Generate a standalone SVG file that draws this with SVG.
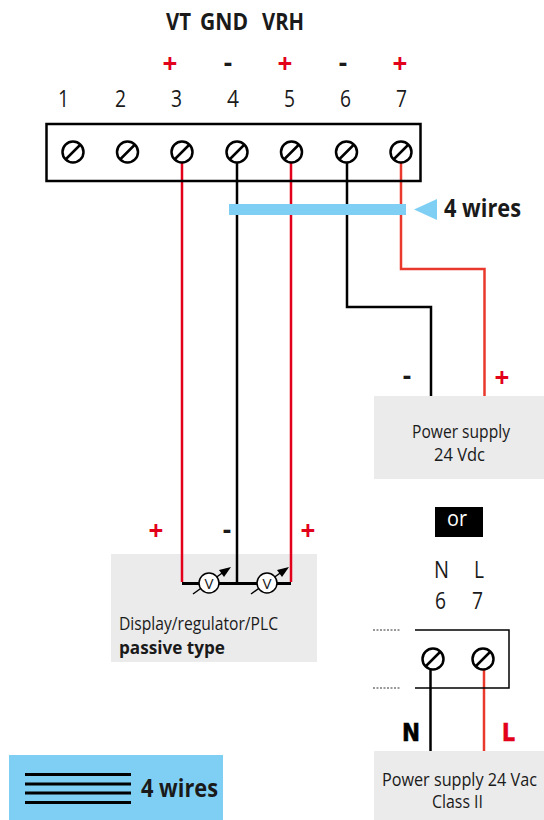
<svg xmlns="http://www.w3.org/2000/svg" width="544" height="820" viewBox="0 0 544 820">
<style>
text{font-family:"Open Sans","Noto Sans","Liberation Sans",sans-serif;fill:#1a1a1a}
.b{font-weight:700}
.r{fill:#e2001a}
.s{font-weight:700;font-size:26px;text-anchor:middle}
.n{font-size:23.500px}
.l{font-size:18px}
.box{fill:#ebebeb}
.blue{fill:#7fcff5}
.screw circle{fill:#fff;stroke:#000;stroke-width:2.5}
.screw line{stroke:#000;stroke-width:2.5}
.k{fill:none;stroke:#000;stroke-width:2.5}
.red{fill:none;stroke:#e2001a;stroke-width:2.5}
.org{fill:none;stroke:#e9392c;stroke-width:2.5}
.m circle{fill:#fff;stroke:#000;stroke-width:1.5}
.m line{stroke:#000;stroke-width:1.5}
.m polygon{fill:#000}
.m text{font-size:15px;text-anchor:middle}
.h{font-family:"DejaVu Sans",sans-serif;font-size:24px;font-weight:700}
</style>
<defs>
<g id="screw" class="screw"><circle r="10.5"/><line x1="-7" y1="7" x2="7" y2="-7"/></g>
<g id="meter" class="m"><line x1="-16" y1="11" x2="16" y2="-12"/><polygon points="22,-16 10,-13 15,-6"/><circle r="10"/><text y="5.500" textLength="9" lengthAdjust="spacingAndGlyphs">V</text></g>
</defs>
<g id="labels-top">
<text class="b" x="166" y="30" font-size="24" textLength="25" lengthAdjust="spacingAndGlyphs">VT</text>
<text class="b" x="200" y="30" font-size="24" textLength="48" lengthAdjust="spacingAndGlyphs">GND</text>
<text class="b" x="262" y="30" font-size="24" textLength="42" lengthAdjust="spacingAndGlyphs">VRH</text>
<text class="s r" x="170" y="73">+</text>
<text class="s" x="228" y="72">-</text>
<text class="s r" x="285" y="73">+</text>
<text class="s" x="343" y="72">-</text>
<text class="s r" x="400" y="73">+</text>
<text class="n" x="58" y="107" textLength="11" lengthAdjust="spacingAndGlyphs">1</text>
<text class="n" x="115" y="107" textLength="11" lengthAdjust="spacingAndGlyphs">2</text>
<text class="n" x="171" y="107" textLength="11" lengthAdjust="spacingAndGlyphs">3</text>
<text class="n" x="227" y="107" textLength="12" lengthAdjust="spacingAndGlyphs">4</text>
<text class="n" x="284" y="107" textLength="11" lengthAdjust="spacingAndGlyphs">5</text>
<text class="n" x="340" y="107" textLength="11" lengthAdjust="spacingAndGlyphs">6</text>
<text class="n" x="396" y="107" textLength="11" lengthAdjust="spacingAndGlyphs">7</text>
</g>
<g id="connectors">
<path class="red" d="M182 163V584"/>
<path class="k" d="M237 163V584"/>
<path class="red" d="M291 163V584"/>
<path class="k" d="M347 163V307H431V396"/>
<path class="org" d="M401 163V269H484.500V396"/>
<path class="k" d="M430.500 670V751"/>
<path class="org" d="M484 670V751"/>
</g>
<g id="terminal-block">
<rect x="46.500" y="124" width="374" height="57" fill="none" stroke="#000" stroke-width="2.500"/>
<use href="#screw" x="73" y="152"/><use href="#screw" x="127.500" y="152"/><use href="#screw" x="182" y="152"/><use href="#screw" x="237" y="152"/><use href="#screw" x="291.500" y="152"/><use href="#screw" x="346.500" y="152"/><use href="#screw" x="401" y="152"/>
</g>
<g id="wires-marker">
<rect class="blue" x="229" y="204" width="177" height="11"/>
<polygon class="blue" points="414,209.500 437,199 437,220"/>
<text class="b" x="444" y="217" font-size="25" textLength="77" lengthAdjust="spacingAndGlyphs">4 wires</text>
</g>
<g id="power-dc">
<rect class="box" x="374" y="396" width="170" height="83"/>
<text class="s" x="407" y="385">-</text>
<text class="s r" x="502" y="387">+</text>
<text class="l" x="412" y="438" textLength="98" lengthAdjust="spacingAndGlyphs">Power supply</text>
<text class="l" x="434" y="461" textLength="51" lengthAdjust="spacingAndGlyphs">24 Vdc</text>
</g>
<g id="or">
<rect x="435" y="507" width="48" height="30" fill="#000"/>
<text x="447" y="526" font-size="22" style="fill:#fff" textLength="20" lengthAdjust="spacingAndGlyphs">or</text>
</g>
<g id="display">
<rect class="box" x="111" y="554" width="206" height="108"/>
<text class="s r" x="156" y="540">+</text>
<text class="s" x="227" y="539">-</text>
<text class="s r" x="308" y="540">+</text>
<path d="M182 583.500H291" fill="none" stroke="#000" stroke-width="3"/>
<path class="red" d="M182 554V582"/><path class="k" d="M237 554V584"/><path class="red" d="M291 554V582"/>
<use href="#meter" x="209" y="583"/><use href="#meter" x="267" y="583"/>
<text class="l" x="119" y="630" textLength="159" lengthAdjust="spacingAndGlyphs">Display/regulator/PLC</text>
<text class="l b" x="119" y="654" textLength="106" lengthAdjust="spacingAndGlyphs">passive type</text>
</g>
<g id="terminal-ac">
<text class="n" x="434" y="578" textLength="15" lengthAdjust="spacingAndGlyphs">N</text>
<text class="n" x="474" y="578" textLength="10" lengthAdjust="spacingAndGlyphs">L</text>
<text class="n" x="435" y="609" textLength="11" lengthAdjust="spacingAndGlyphs">6</text>
<text class="n" x="472" y="609" textLength="11" lengthAdjust="spacingAndGlyphs">7</text>
<path d="M415 630H509V688H415" fill="none" stroke="#000" stroke-width="1.500"/>
<path d="M373 630H400M373 688H400" fill="none" stroke="#333" stroke-width="1" stroke-dasharray="2 1.500"/>
<use href="#screw" x="433" y="659"/><use href="#screw" x="483" y="659"/>
</g>
<g id="power-ac">
<rect class="box" x="374" y="751" width="170" height="69"/>
<text class="h" x="402" y="741" style="fill:#000" stroke="#000" stroke-width=".6" textLength="18" lengthAdjust="spacingAndGlyphs">N</text>
<text class="h r" x="502" y="741" stroke="#e2001a" stroke-width=".6" textLength="13" lengthAdjust="spacingAndGlyphs">L</text>
<text class="l" transform="translate(382 786) scale(.9 1)">Power supply 24 Vac</text>
<text class="l" x="432" y="808" textLength="51" lengthAdjust="spacingAndGlyphs">Class II</text>
</g>
<g id="legend">
<rect class="blue" x="9" y="755" width="214" height="65"/>
<path d="M25 774.500H131M25 784H131M25 793H131M25 802.500H131" fill="none" stroke="#000" stroke-width="3"/>
<text class="b" x="141" y="797" font-size="25" textLength="77" lengthAdjust="spacingAndGlyphs">4 wires</text>
</g>
</svg>
